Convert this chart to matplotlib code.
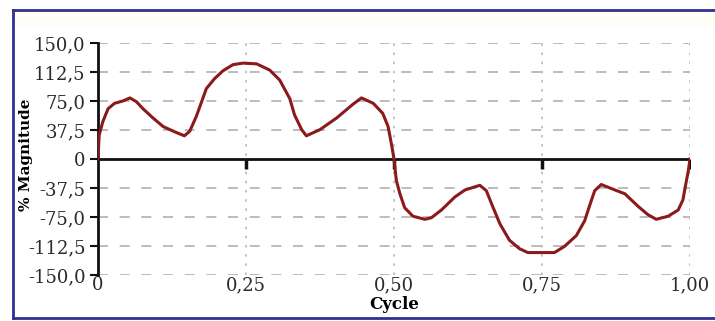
import matplotlib.pyplot as plt
from matplotlib.lines import Line2D
from matplotlib.patches import Rectangle

# waveform (cycle position, % magnitude)
cycle_pos = [0.0, 0.002, 0.008, 0.017, 0.028, 0.042, 0.054, 0.065, 0.076, 0.093,
             0.110, 0.130, 0.146, 0.155, 0.166, 0.175, 0.183, 0.197, 0.211, 0.228,
             0.245, 0.268, 0.290, 0.307, 0.324, 0.332, 0.344, 0.352, 0.375, 0.403,
             0.431, 0.445, 0.465, 0.481, 0.490, 0.496, 0.500,
             0.504, 0.510, 0.518, 0.532, 0.552, 0.563, 0.580, 0.603, 0.620,
             0.645, 0.656, 0.667, 0.679, 0.695, 0.712, 0.726, 0.751, 0.771,
             0.788, 0.808, 0.822, 0.831, 0.839, 0.850, 0.873, 0.890, 0.912,
             0.929, 0.943, 0.963, 0.980, 0.988, 0.993, 0.997, 1.000]
magnitude = [0, 31, 48, 65, 72, 75, 79, 74, 65, 53,
             42, 35, 30, 36, 55, 74, 91, 104, 114, 122,
             124, 123, 115, 102, 78, 57, 38, 30, 38, 53,
             71, 79, 72, 59, 42, 18, 0,
             -28, -45, -63, -74, -78, -76, -66, -49, -40,
             -34, -41, -62, -84, -105, -116, -121, -121, -121,
             -113, -99, -80, -59, -41, -33, -40, -45, -61,
             -72, -78, -74, -66, -53, -32, -16, 0]

y_ticks = [150.0, 112.5, 75.0, 37.5, 0.0, -37.5, -75.0, -112.5, -150.0]
y_tick_labels = ["150,0", "112,5", "75,0", "37,5", "0", "-37,5", "-75,0", "-112,5", "-150,0"]
x_ticks = [0.0, 0.25, 0.5, 0.75, 1.0]
x_tick_labels = ["0", "0,25", "0,50", "0,75", "1,00"]

W, H = 715, 321
fig = plt.figure(figsize=(W / 100, H / 100), dpi=100)
fig.patch.set_facecolor('white')

ax = fig.add_axes([98 / W, 1 - 275 / H, 592 / W, 232 / H])
ax.set_xlim(0, 1)
ax.set_ylim(-150, 150)

# grid: dashed horizontals, dotted verticals
for yv in y_ticks:
    if yv != 0:
        ax.axhline(yv, color='#b0b0b0', lw=1.2, ls=(0, (6, 7)), zorder=1)
for xv in x_ticks[1:]:
    ax.axvline(xv, color='#b8b8b8', lw=1.2, ls=(0, (1.5, 4)), zorder=1)
ax.axhline(0, color='#111111', lw=2, zorder=2)
ax.plot(x_ticks[1:], [0] * 4, ls='none', marker=3, ms=7, mew=2.5, color='#111111', zorder=2)

ax.plot(cycle_pos, magnitude, color='#8b1a1a', lw=2.2, zorder=3)

for s in ['top', 'right', 'bottom']:
    ax.spines[s].set_visible(False)
ax.spines['left'].set_linewidth(2)
ax.spines['left'].set_color('#111111')

ax.set_yticks(y_ticks)
ax.set_yticklabels(y_tick_labels)
ax.set_xticks(x_ticks)
ax.set_xticklabels(x_tick_labels)
ax.tick_params(axis='y', length=6, width=1.5, color='#111111', pad=3)
ax.tick_params(axis='x', length=0, pad=1)
for lab in ax.get_yticklabels() + ax.get_xticklabels():
    lab.set_fontfamily('DejaVu Serif')
    lab.set_fontsize(13)
    lab.set_color('#2a2a2a')

ax.set_ylabel('% Magnitude', fontfamily='DejaVu Serif', fontweight='bold', fontsize=11)
ax.yaxis.set_label_coords(-0.11, 0.52)
ax.set_xlabel('Cycle', fontfamily='DejaVu Serif', fontweight='bold', fontsize=12)
ax.xaxis.set_label_coords(0.5, -0.09)

# frame around the picture
fig.add_artist(Rectangle((13 / W, 1 - 25 / H), 1, 15 / H, transform=fig.transFigure,
                         color='#fffef6', zorder=-1))
fig.add_artist(Rectangle((0, 0), 13 / W, 1, transform=fig.transFigure,
                         color='white', zorder=10))
fig.add_artist(Rectangle((0, 0), 1, 3 / H, transform=fig.transFigure,
                         color='white', zorder=10))
fig.add_artist(Rectangle((0, 1 - 10 / H), 1, 10 / H, transform=fig.transFigure,
                         color='white', zorder=10))
frame = '#2e3192'
fig.add_artist(Line2D([13 / W, 1], [1 - 10 / H] * 2, color=frame, lw=2, zorder=11))
fig.add_artist(Line2D([13 / W] * 2, [1 - 10 / H, 3 / H], color=frame, lw=2, zorder=11))
fig.add_artist(Line2D([13 / W, 1], [3 / H] * 2, color=frame, lw=2, zorder=11))

fig.savefig('out.png', dpi=100)
